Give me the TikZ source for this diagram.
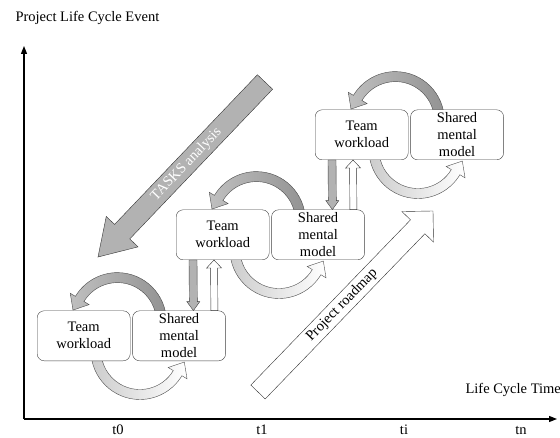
\documentclass[tikz,border=0pt]{standalone}
\usepackage{fontspec}
\setmainfont{Liberation Serif}
\usetikzlibrary{arrows.meta, calc, positioning, backgrounds}

\newcommand{\bendarrow}[5]{%
  \path[#1] ($(#2)+(#3:{#5+5})$) arc[start angle=#3, end angle=#4, radius={#5+5}]
    -- ($(#2)+(#4:{#5+11})$) -- ($(#2)+(#4:#5)+({#4+90}:13)$) -- ($(#2)+(#4:{#5-11})$)
    -- ($(#2)+(#4:{#5-5})$) arc[start angle=#4, end angle=#3, radius={#5-5}] -- cycle;}

\begin{document}
\begin{tikzpicture}[x=1pt, y=1pt,
  lbl/.style={font=\fontsize{14.5}{17}\selectfont},
  box/.style={lbl, draw=black!75, fill=white, rounded corners=7pt, minimum width=93pt,
    minimum height=50pt, inner sep=0pt, align=center},
  axis/.style={line width=1.3pt, -{Triangle[length=8pt,width=6pt]}},
  fatarrow/.style n args={3}{to path={
    ($(\tikztostart)!#1!90:(\tikztotarget)$)
    -- ($($(\tikztotarget)!#3!(\tikztostart)$)!#1!90:(\tikztotarget)$)
    -- ($($(\tikztotarget)!#3!(\tikztostart)$)!#2!90:(\tikztotarget)$)
    -- (\tikztotarget)
    -- ($($(\tikztotarget)!#3!(\tikztostart)$)!#2!-90:(\tikztotarget)$)
    -- ($($(\tikztotarget)!#3!(\tikztostart)$)!#1!-90:(\tikztotarget)$)
    -- ($(\tikztostart)!#1!-90:(\tikztotarget)$) -- cycle}}]
  \useasboundingbox (0,0) rectangle (560,437);

  \coordinate (origin) at (24,18);
  \coordinate (yend) at (24,391);
  \coordinate (xend) at (557,18);
  \draw[axis] (origin) -- (yend);
  \draw[axis] (origin) -- (xend);
  \node[lbl, anchor=base west] (ytitle) at (12,415) {Project Life\ Cycle Event};
  \node[lbl, anchor=base west] (xtitle) at (462,44) {Life Cycle Time};
  \foreach \name/\x in {t0/118, t1/262, ti/404, tn/521}
    \node[lbl] (\name) at (\x,7) {\name};

  \coordinate (tasks-tail) at (265,355);
  \coordinate (tasks-tip) at (98,180);
  \draw[fill=gray!60, draw=black!80, fatarrow={10.5pt}{22pt}{35pt}] (tasks-tail) to (tasks-tip);
  \path (tasks-tip) -- (tasks-tail) node[lbl, sloped, pos=0.53, text=white] {TASKS analysis};

  \coordinate (road-tail) at (258,45);
  \coordinate (road-tip) at (433,226);
  \draw[fill=white, draw=black!80, fatarrow={10pt}{22pt}{22pt}] (road-tail) to (road-tip);
  \path (road-tail) -- (road-tip) node[lbl, sloped, pos=0.48] {Project roadmap};

  \foreach \i/\x/\y in {1/37/76, 2/176/177, 3/315/277} {
    \node[box, anchor=south west] (team\i) at (\x,\y) {Team\\workload};
    \node[box, right=2pt of team\i] (shared\i) {Shared\\mental\\model};
  }

  \begin{scope}[on background layer]
    \foreach \i in {1,2,3} {
      \coordinate (up\i) at ($(team\i.north east)+(-13,-11)$);
      \coordinate (dn\i) at ($(team\i.south east)+(9.5,10.5)$);
      \bendarrow{draw=black!70, left color=gray!50, right color=gray!85}{up\i}{0}{149}{44}
      \bendarrow{draw=black!70, left color=gray!40, right color=white}{dn\i}{180}{329}{44}
    }
  \end{scope}

  \foreach \i/\j in {1/2, 2/3} {
    \draw[fill=gray!60, draw=black!75, fatarrow={4pt}{6.5pt}{9pt}]
      ($(team\j.south west)+(17,0)$) to ($(shared\i.north west)+(61,0)$);
    \draw[fill=white, draw=black!80, fatarrow={3.5pt}{7.5pt}{8pt}]
      ($(shared\i.north west)+(82,0)$) to ($(team\j.south west)+(38,0)$);
  }
\end{tikzpicture}
\end{document}
